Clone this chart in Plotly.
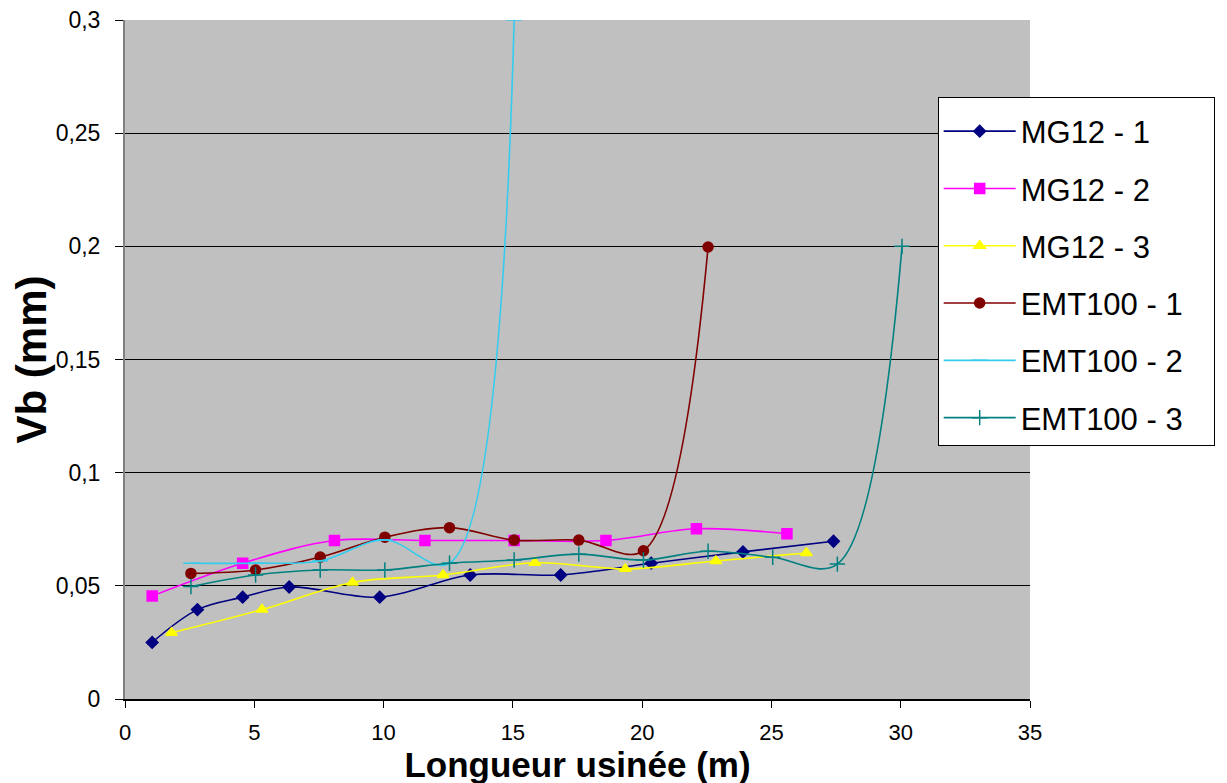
import plotly.graph_objects as go

# ---- data ----
mg12_1_x = [1.05, 2.8, 4.55, 6.35, 9.85, 13.35, 16.85, 20.35, 23.9, 27.4]
mg12_1_y = [0.025, 0.0395, 0.045, 0.0495, 0.045, 0.0548, 0.0548, 0.06, 0.065, 0.0697]

mg12_2_x = [1.05, 4.55, 8.1, 11.6, 15.05, 18.6, 22.1, 25.6]
mg12_2_y = [0.0455, 0.06, 0.07, 0.07, 0.07, 0.07, 0.0752, 0.073]

mg12_3_x = [1.8, 5.3, 8.8, 12.3, 15.85, 19.35, 22.85, 26.35]
mg12_3_y = [0.0293, 0.0395, 0.0515, 0.0548, 0.0602, 0.0575, 0.061, 0.0645]

emt_1_x = [2.55, 5.05, 7.55, 10.05, 12.55, 15.05, 17.55, 20.05, 22.55]
emt_1_y = [0.0555, 0.057, 0.0627, 0.0715, 0.0757, 0.0702, 0.0702, 0.0655, 0.1997]

emt_2_x = [2.55, 5.05, 7.55, 10.05, 12.55, 15.05]
emt_2_y = [0.06, 0.06, 0.061, 0.0703, 0.06, 0.3]

emt_3_x = [2.55, 5.05, 7.55, 10.05, 12.55, 15.05, 17.55, 20.05, 22.55, 25.05, 27.55, 30.05]
emt_3_y = [0.0497, 0.0548, 0.057, 0.057, 0.06, 0.0614, 0.064, 0.0614, 0.0653, 0.0626, 0.0596, 0.2]

names = ["MG12 - 1", "MG12 - 2", "MG12 - 3", "EMT100 - 1", "EMT100 - 2", "EMT100 - 3"]
xs = [mg12_1_x, mg12_2_x, mg12_3_x, emt_1_x, emt_2_x, emt_3_x]
ys = [mg12_1_y, mg12_2_y, mg12_3_y, emt_1_y, emt_2_y, emt_3_y]

x_ticks = [0, 5, 10, 15, 20, 25, 30, 35]
y_ticks = [0, 0.05, 0.1, 0.15, 0.2, 0.25, 0.3]
y_tick_labels = ["0", "0,05", "0,1", "0,15", "0,2", "0,25", "0,3"]

# ---- styles ----
colors = ["#000080", "#FF00FF", "#FFFF00", "#800000", "#33CCEE", "#008080"]
symbols = ["diamond", "square", "triangle-up", "circle", "line-ew", "cross-thin"]
msizes = [9, 10, 10, 10, 11, 11]

NARROW = "Liberation Sans Narrow, Arial Narrow, Liberation Sans, Arial"
REG = "Liberation Sans, Arial, sans-serif"
PAD = "\u00a0" * 3  # a little trailing space so the legend box runs toward the right edge

fig = go.Figure()
for i in range(6):
    fig.add_trace(go.Scatter(
        x=xs[i], y=ys[i], name=names[i] + PAD, mode="lines+markers",
        legendgroup=names[i],
        line=dict(color=colors[i], width=1.6, shape="spline", smoothing=1.0),
        marker=dict(color=colors[i], symbol=symbols[i], size=msizes[i],
                    line=dict(color=colors[i], width=1.5)),
    ))

fig.update_layout(
    width=1227, height=783,
    margin=dict(l=117, r=205, t=12, b=92, autoexpand=False),
    paper_bgcolor="white",
    plot_bgcolor="#C0C0C0",
    font=dict(family=REG, color="black"),
    showlegend=True,
    legend=dict(
        x=0.898, y=0.8866, xanchor="left", yanchor="top",
        bgcolor="white", bordercolor="black", borderwidth=1,
        font=dict(size=31, family=REG),
        title=dict(text=" ", font=dict(size=5)),
        tracegroupgap=14, itemwidth=72,
    ),
    xaxis=dict(
        range=[0, 35], tickvals=x_ticks, ticktext=[str(v) for v in x_ticks],
        showgrid=False, zeroline=False, automargin=False,
        showline=True, linecolor="black", linewidth=1.5,
        ticks="outside", ticklen=7, tickcolor="black",
        ticklabelstandoff=6, ticklabeloverflow="allow",
        tickfont=dict(size=22, family=NARROW),
        title=dict(text="<b>Longueur usinée (m)</b>", standoff=0,
                   font=dict(size=35, family=NARROW)),
    ),
    yaxis=dict(
        range=[0, 0.3], tickvals=y_ticks, ticktext=y_tick_labels,
        showgrid=True, gridcolor="black", gridwidth=1.2,
        zeroline=False, automargin=False,
        showline=True, linecolor="#808080", linewidth=2,
        ticks="outside", ticklen=8, tickcolor="black",
        ticklabelstandoff=10, ticklabeloverflow="allow",
        tickfont=dict(size=23),
        title=dict(text="<b>Vb (mm)</b>", standoff=5,
                   font=dict(size=42, family=NARROW)),
    ),
)

fig.write_html("out.html")
